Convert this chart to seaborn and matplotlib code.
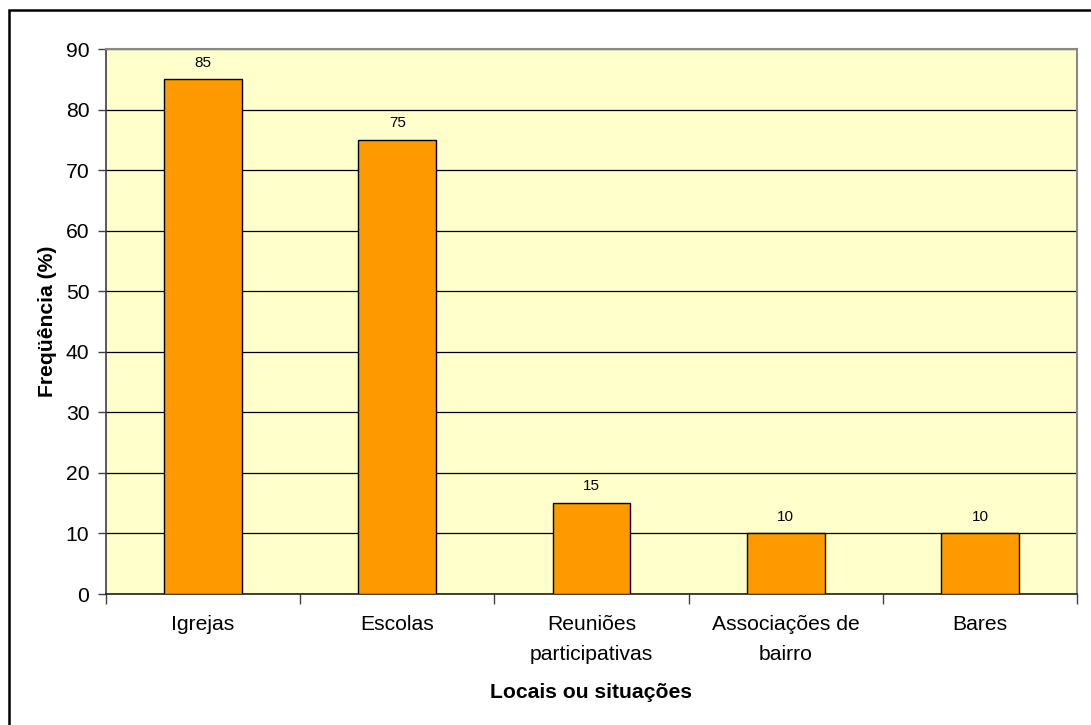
import matplotlib
matplotlib.use("Agg")
import matplotlib.pyplot as plt
import seaborn as sns
import pandas as pd
from matplotlib.patches import Rectangle

categories = ["Igrejas", "Escolas", "Reuniões\nparticipativas", "Associações de\nbairro", "Bares"]
values = [85, 75, 15, 10, 10]
y_ticks = [0, 10, 20, 30, 40, 50, 60, 70, 80, 90]

df = pd.DataFrame({"local": categories, "freq": values})

sns.set_theme(style="white")
plt.rcParams["font.family"] = ["Liberation Sans", "DejaVu Sans"]

W, H = 1091, 725
fig = plt.figure(figsize=(W / 100, H / 100), dpi=100)
fig.patch.set_facecolor("white")

# outer frame (only top and left edges fall inside the canvas)
fig.add_artist(Rectangle((9 / W, -0.5), 1.2, 1.5 - 10 / H, transform=fig.transFigure,
                         fill=False, edgecolor="black", linewidth=1.8))

left, right, top, bottom = 106, 1077, 49, 594
ax = fig.add_axes([left / W, 1 - bottom / H, (right - left) / W, (bottom - top) / H])
ax.set_facecolor("#FFFFCC")

sns.barplot(data=df, x="local", y="freq", ax=ax, color="#FF9900", width=0.4,
            edgecolor="black", linewidth=1.0, saturation=1, zorder=3)

ax.set_ylim(0, 90)
ax.set_xlim(-0.5, len(categories) - 0.5)
ax.set_yticks(y_ticks)
ax.yaxis.grid(True, color="black", linewidth=0.9, zorder=0)
ax.set_axisbelow(True)

for c in ax.containers:
    ax.bar_label(c, labels=[str(v) for v in values], padding=7, fontsize=11, color="black")

# category separators as ticks
ax.set_xticks([i - 0.5 for i in range(len(categories) + 1)], minor=True)
ax.tick_params(axis="x", which="minor", length=7, width=1, color="#404040", direction="out", bottom=True)
ax.tick_params(axis="x", which="major", length=0, pad=15, labelsize=15.2, colors="black")
ax.tick_params(axis="y", length=6, width=1, color="#404040", direction="out", left=True, pad=6,
               labelsize=15.2, labelcolor="black")
for lbl in ax.get_xticklabels():
    lbl.set_linespacing(1.75)

for s in ["top", "right"]:
    ax.spines[s].set_color("#888888")
    ax.spines[s].set_linewidth(1.5)
ax.spines["left"].set_color("#404040")
ax.spines["bottom"].set_color("#202020")
for s in ["left", "bottom"]:
    ax.spines[s].set_linewidth(1.2)

ax.set_xlabel("Locais ou situações", fontsize=15.2, fontweight="bold", color="black")
ax.set_ylabel("Freqüência (%)", fontsize=15.2, fontweight="bold", color="black")
ax.xaxis.set_label_coords(0.5, (bottom - 683) / (bottom - top))
ax.yaxis.set_label_coords((57 - left) / (right - left), 0.5)

fig.savefig("out.png", dpi=100, facecolor="white")
